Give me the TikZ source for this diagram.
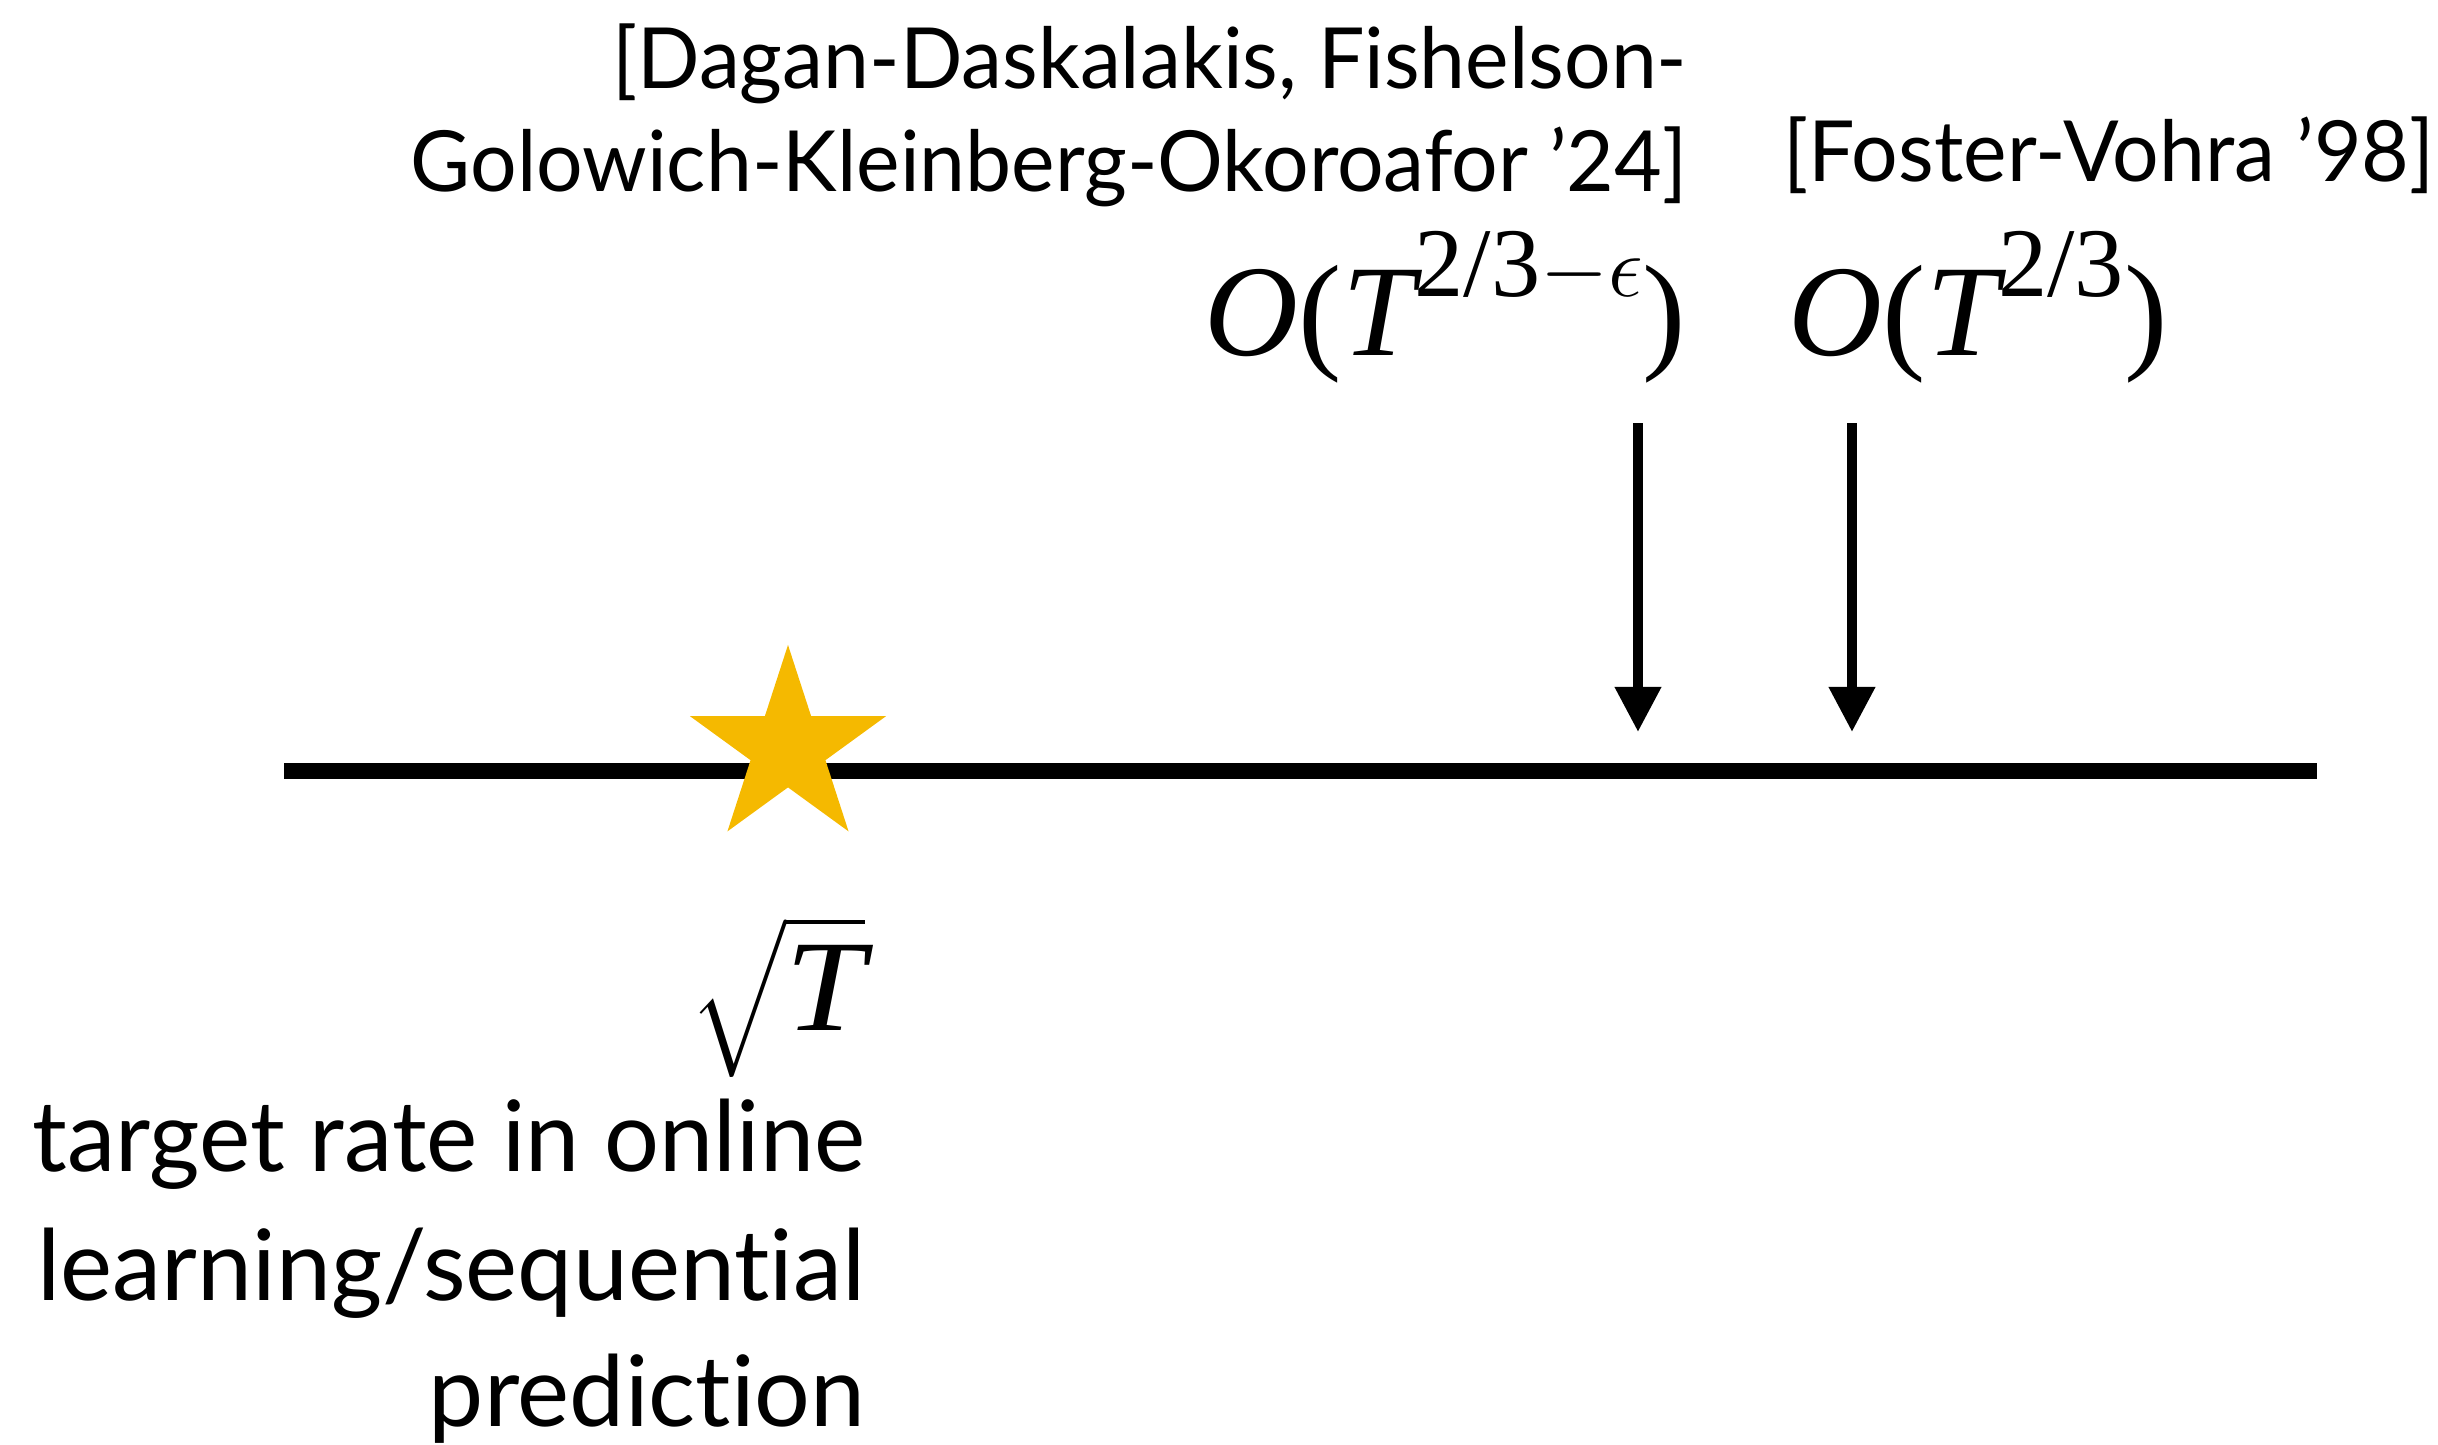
\documentclass[tikz,border=0pt]{standalone}
\usepackage{amsmath}
\usepackage{graphicx}
\usepackage{fontspec}
\setsansfont{Lato}[Ligatures={NoCommon,NoContextual}]
\newfontfamily\tms{Liberation Serif}
\newcommand\tI[1]{\text{\tms\itshape #1}}
\newcommand\supr[1]{\raisebox{0.45em}{\fontsize{28}{30}\selectfont\tms #1}}
\newcommand\sx[2]{\scalebox{#1}[1]{#2}}
\usetikzlibrary{arrows.meta,shapes.geometric}
\definecolor{stargold}{RGB}{245,185,0}
\begin{document}
\begin{tikzpicture}[x=0.01cm,y=-0.01cm,
  toplbl/.style={inner sep=0pt,font=\sffamily\fontsize{24}{28}\selectfont},
  botlbl/.style={inner sep=0pt,font=\sffamily\fontsize{28}{34}\selectfont},
  mathlbl/.style={inner sep=0pt,font=\fontsize{37}{44}\selectfont},
  axis/.style={line width=0.16cm},
  pointer/.style={line width=0.1cm,-{Triangle[width=0.44cm,length=0.45cm]}},
  goldstar/.style={star,star points=5,star point ratio=2.618,minimum size=2.06cm,inner sep=0pt,fill=stargold,draw=none}]
\useasboundingbox (0,0) rectangle (2438,1444);
% axis
\coordinate (L) at (284,771);
\coordinate (R) at (2317,771);
\draw[axis] (L) -- (R);
% star
\node[goldstar] (st) at (788,748) {};
% arrows
\coordinate (a1s) at (1638,423);
\coordinate (a1e) at (1638,732);
\coordinate (a2s) at (1852,423);
\coordinate (a2e) at (1852,732);
\draw[pointer] (a1s) -- (a1e);
\draw[pointer] (a2s) -- (a2e);
% top labels
\node[toplbl,anchor=base east] (t1) at (1688,88) {\sx{0.975}{[Dagan-Daskalakis, Fishelson-}};
\node[toplbl,anchor=base east] (t2) at (1688,191) {\sx{0.975}{Golowich-Kleinberg-Okoroafor '24]}};
\node[toplbl,anchor=base west] (t3) at (1783,181) {\sx{0.975}{[Foster-Vohra '98]}};
% math labels
\node[mathlbl,anchor=base east] (m1) at (1687,355) {{\tms\itshape O}{\tms(}{\tms\itshape T}\supr{2/3$-\epsilon$}{\tms)}};
\node[mathlbl,anchor=base west] (m2) at (1788,355) {{\tms\itshape O}{\tms(}{\tms\itshape T}\supr{2/3}{\tms)}};
\node[mathlbl,anchor=base east,xscale=1.1] (m3) at (866,1030) {$\sqrt{\vphantom{\big|}\tI{T}}$};
% bottom labels
\node[botlbl,anchor=base east] (b1) at (866,1171) {\sx{0.985}{target rate in online}};
\node[botlbl,anchor=base east] (b2) at (866,1300) {\sx{1.0}{learning/sequential}};
\node[botlbl,anchor=base east] (b3) at (866,1426) {\sx{1.0}{prediction}};
\end{tikzpicture}
\end{document}
